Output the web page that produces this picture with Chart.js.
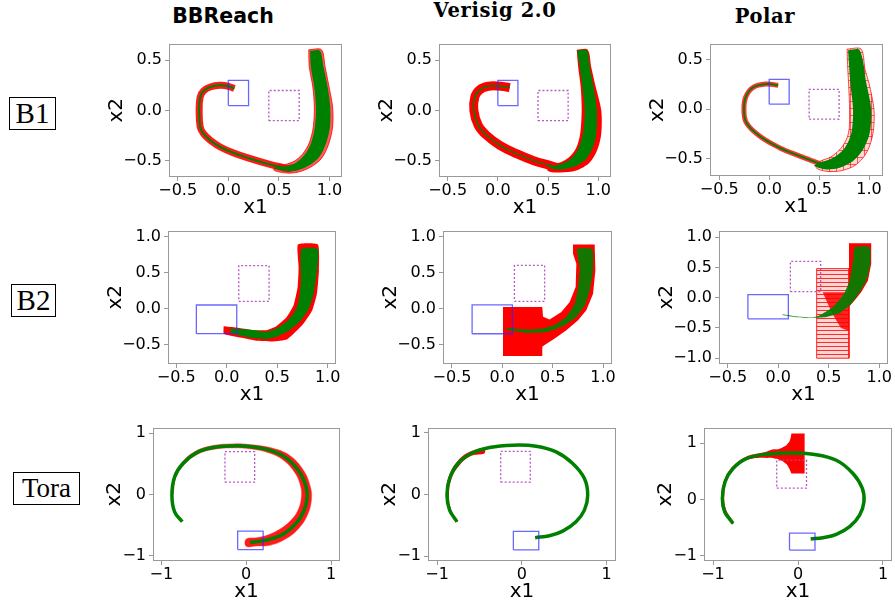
<!DOCTYPE html>
<html><head><meta charset="utf-8">
<script src="https://cdn.jsdelivr.net/npm/chart.js@4.4.0/dist/chart.umd.min.js"></script>
<style>
html,body{margin:0;padding:0;background:#fff;}
body{width:895px;height:604px;position:relative;overflow:hidden;}
canvas{position:absolute;}
.ttl{position:absolute;color:#000;white-space:nowrap;transform:translateX(-50%);line-height:1;}
.row{position:absolute;border:1px solid #000;box-sizing:border-box;font-family:"Liberation Serif",serif;color:#000;display:flex;align-items:center;justify-content:center;}
</style></head><body>
<div class="ttl" style="left:223px;top:6px;font-family:'DejaVu Sans';font-weight:bold;font-size:20.5px;">BBReach</div>
<div class="ttl" style="left:495px;top:1px;font-family:'DejaVu Serif';font-weight:bold;font-size:19.5px;letter-spacing:0.6px;">Verisig 2.0</div>
<div class="ttl" style="left:765px;top:7px;font-family:'DejaVu Serif';font-weight:bold;font-size:19.5px;letter-spacing:0.6px;">Polar</div>
<div class="row" style="left:9px;top:97px;width:47px;height:33px;font-size:29px;">B1</div>
<div class="row" style="left:11px;top:284px;width:45px;height:33px;font-size:29px;">B2</div>
<div class="row" style="left:13px;top:472px;width:67px;height:33px;font-size:27px;">Tora</div>
<script>
// ---------- target / avoid sets ----------
const b1GoalX = [0.0, 0.2], b1GoalY = [0.05, 0.3];
const b1AvoidX = [0.4, 0.7], b1AvoidY = [-0.1, 0.2];
const b2GoalX = [-0.3, 0.1], b2GoalY = [-0.35, 0.05];
const b2AvoidX = [0.12, 0.42], b2AvoidY = [0.1, 0.6];
const toraGoalX = [-0.1, 0.2], toraGoalY = [-0.9, -0.6];
const toraAvoidX = [-0.25, 0.1], toraAvoidY = [0.2, 0.7];

// ---------- B1 / BBReach ----------
const b1bbPathX = [0.855,0.878,0.915,0.936,0.93,0.89,0.82,0.73,0.6,0.517,0.384,0.219,0.053,-0.08,-0.179,-0.245,-0.278,-0.288,-0.278,-0.245,-0.179,-0.08,0.003,0.06];
const b1bbPathY = [0.59,0.43,0.235,0.036,-0.16,-0.33,-0.455,-0.535,-0.575,-0.56,-0.527,-0.477,-0.421,-0.361,-0.295,-0.229,-0.162,0.003,0.136,0.195,0.235,0.252,0.242,0.219];
const b1bbGreenX = [0.808,0.905,0.941,0.981,1.007,1.004,0.964,0.898,0.80,0.683,0.583,0.45,0.567,0.666,0.749,0.815,0.855,0.865,0.848,0.815];
const b1bbGreenY = [0.595,0.595,0.434,0.235,0.036,-0.162,-0.328,-0.46,-0.543,-0.593,-0.603,-0.57,-0.553,-0.52,-0.444,-0.328,-0.162,0.036,0.235,0.434];
const b1bbRedX = [0.795,0.92,0.955,0.995,1.03,1.03,0.99,0.92,0.815,0.69,0.58,0.45,0.5,0.56,0.655,0.735,0.80,0.84,0.85,0.835,0.80];
const b1bbRedY = [0.605,0.605,0.44,0.235,0.036,-0.162,-0.335,-0.475,-0.56,-0.61,-0.62,-0.59,-0.535,-0.535,-0.5,-0.43,-0.32,-0.16,0.036,0.235,0.434];

// ---------- B1 / Verisig 2.0 ----------
const b1vePathX = [0.835,0.865,0.9,0.925,0.92,0.885,0.82,0.73,0.6,0.517,0.351,0.186,0.02,-0.113,-0.195,-0.239,-0.229,-0.179,-0.096,0.003,0.086,0.119];
const b1vePathY = [0.6,0.434,0.235,0.003,-0.229,-0.378,-0.49,-0.55,-0.565,-0.543,-0.494,-0.427,-0.345,-0.245,-0.146,0.003,0.136,0.209,0.242,0.245,0.235,0.229];
const b1veGreenX = [0.789,0.888,0.915,0.954,0.987,0.981,0.941,0.865,0.749,0.616,0.5,0.583,0.716,0.799,0.848,0.865,0.842,0.815];
const b1veGreenY = [0.6,0.6,0.434,0.235,0.003,-0.229,-0.378,-0.494,-0.56,-0.586,-0.565,-0.543,-0.487,-0.378,-0.229,0.003,0.235,0.434];
const b1veRedX = [0.785,0.895,0.93,0.975,1.03,1.03,0.99,0.91,0.78,0.62,0.5,0.5,0.6,0.7,0.78,0.82,0.835,0.825,0.80];
const b1veRedY = [0.605,0.605,0.434,0.235,0.003,-0.229,-0.39,-0.52,-0.595,-0.615,-0.6,-0.52,-0.52,-0.47,-0.37,-0.229,0.003,0.235,0.434];

// ---------- B1 / Polar ----------
const b1poPathX = [0.85,0.893,0.93,0.915,0.85,0.74,0.6,0.5,0.307,0.107,-0.093,-0.227,-0.253,-0.233,-0.16,-0.027,0.09];
const b1poPathY = [0.59,0.26,-0.007,-0.24,-0.4,-0.51,-0.575,-0.545,-0.473,-0.39,-0.273,-0.14,-0.007,0.127,0.22,0.253,0.24];
const b1poGreenX = [0.79,0.907,0.973,1.023,1.007,0.94,0.84,0.707,0.573,0.45,0.507,0.64,0.757,0.823,0.84,0.813];
const b1poGreenY = [0.593,0.593,0.26,-0.007,-0.24,-0.407,-0.523,-0.59,-0.607,-0.57,-0.54,-0.49,-0.39,-0.24,-0.007,0.26];
const b1poRedX = [0.78,0.92,0.96,1.0,1.05,1.04,0.98,0.87,0.72,0.57,0.47,0.5,0.62,0.73,0.795,0.805,0.795,0.785];
const b1poRedY = [0.605,0.605,0.40,0.26,-0.007,-0.24,-0.43,-0.56,-0.62,-0.625,-0.59,-0.53,-0.48,-0.38,-0.24,-0.007,0.26,0.45];

// ---------- B2 / BBReach ----------
const b2bbGreenX = [0.036,0.228,0.393,0.492,0.591,0.673,0.716,0.736,0.739,0.904,0.888,0.855,0.805,0.723,0.624,0.492,0.393,0.228,0.063,0.036];
const b2bbGreenY = [-0.278,-0.292,-0.324,-0.278,-0.185,-0.046,0.116,0.394,0.833,0.833,0.44,0.162,-0.023,-0.185,-0.301,-0.394,-0.426,-0.403,-0.347,-0.315];
const b2bbRedX = [-0.03,0.096,0.261,0.393,0.492,0.591,0.663,0.703,0.713,0.706,0.904,0.914,0.894,0.848,0.762,0.673,0.597,0.459,0.294,0.162,-0.003,-0.03];
const b2bbRedY = [-0.245,-0.264,-0.301,-0.301,-0.245,-0.125,0.046,0.301,0.579,0.894,0.894,0.532,0.208,-0.023,-0.208,-0.338,-0.431,-0.458,-0.449,-0.412,-0.366,-0.347];

// ---------- B2 / Verisig 2.0 ----------
const b2veGreenX = [0.04,0.238,0.404,0.52,0.636,0.719,0.752,0.768,0.742,0.894,0.901,0.868,0.818,0.735,0.636,0.52,0.404,0.238,0.04];
const b2veGreenY = [-0.267,-0.29,-0.276,-0.23,-0.115,0.069,0.3,0.576,0.829,0.829,0.53,0.253,0.046,-0.115,-0.217,-0.29,-0.332,-0.336,-0.29];
const b2veRedX = [0.007,0.397,0.404,0.47,0.586,0.669,0.728,0.735,0.702,0.702,0.917,0.924,0.901,0.834,0.752,0.636,0.52,0.42,0.397,0.397,0.007];
const b2veRedY = [0.023,0.023,-0.115,-0.152,-0.046,0.092,0.3,0.622,0.76,0.889,0.889,0.53,0.207,-0.023,-0.161,-0.3,-0.415,-0.507,-0.53,-0.659,-0.659];

// ---------- B2 / Polar ----------
const b2poBlockX = [0.38,0.70,0.70,0.38];
const b2poBlockY = [0.48,0.48,-1.0,-1.0];
const b2poDenseX = [0.44,0.70,0.70,0.62,0.53];
const b2poDenseY = [0.09,0.09,-0.55,-0.5,-0.25];
const b2poArmX = [0.70,0.92,0.92,0.888,0.822,0.757,0.70];
const b2poArmY = [0.90,0.90,0.56,0.285,0.093,-0.044,-0.15];
const b2poGreenX = [0.043,0.181,0.345,0.411,0.543,0.641,0.707,0.74,0.757,0.905,0.911,0.872,0.806,0.724,0.609,0.477,0.345,0.181,0.043];
const b2poGreenY = [-0.275,-0.31,-0.322,-0.29,-0.153,0.038,0.285,0.614,0.833,0.833,0.559,0.285,0.093,-0.099,-0.252,-0.318,-0.334,-0.322,-0.285];

// ---------- Tora / BBReach ----------
const tobbPathX = [-0.753,-0.843,-0.875,-0.843,-0.745,-0.588,-0.392,-0.157,0.039,0.275,0.471,0.627,0.706,0.718,0.675,0.588,0.451,0.275,0.118,0.047];
const tobbPathY = [-0.446,-0.283,-0.011,0.288,0.505,0.679,0.766,0.793,0.783,0.723,0.598,0.37,0.125,-0.065,-0.283,-0.473,-0.636,-0.734,-0.772,-0.783];
const tobbRedX = [-0.878,-0.851,-0.753,-0.596,-0.392,-0.157,0.039,0.294,0.51,0.675,0.757,0.769,0.725,0.627,0.478,0.294,0.118,0.0,
                  0.0,0.118,0.255,0.412,0.541,0.62,0.651,0.643,0.58,0.439,0.255,0.039,-0.157,-0.392,-0.58,-0.737,-0.831,-0.863];
const tobbRedY = [-0.011,0.299,0.527,0.707,0.799,0.826,0.815,0.761,0.641,0.397,0.125,-0.092,-0.326,-0.543,-0.717,-0.826,-0.842,-0.848,
                  -0.728,-0.707,-0.663,-0.554,-0.402,-0.228,-0.038,0.125,0.342,0.56,0.685,0.745,0.761,0.734,0.652,0.478,0.272,-0.011];

// ---------- Tora / Verisig 2.0 ----------
const tovePathX = [-0.766,-0.853,-0.884,-0.853,-0.754,-0.597,-0.381,-0.106,0.169,0.405,0.601,0.739,0.778,0.739,0.64,0.483,0.326,0.157];
const tovePathY = [-0.443,-0.254,-0.011,0.259,0.503,0.665,0.762,0.8,0.784,0.692,0.503,0.259,-0.011,-0.254,-0.443,-0.595,-0.67,-0.703];
const toveRedX = [-0.766,-0.86,-0.896,-0.868,-0.766,-0.617,-0.452,-0.44,-0.597,-0.735,-0.829,-0.86,-0.833,-0.758];
const toveRedY = [-0.454,-0.265,-0.011,0.27,0.53,0.692,0.746,0.67,0.627,0.476,0.259,-0.011,-0.254,-0.432];

// ---------- Tora / Polar ----------
const topoPathX = [-0.765,-0.863,-0.89,-0.859,-0.765,-0.608,-0.373,-0.098,0.176,0.451,0.647,0.757,0.776,0.725,0.608,0.451,0.294,0.149];
const topoPathY = [-0.426,-0.219,0.018,0.314,0.55,0.728,0.805,0.828,0.805,0.698,0.462,0.195,-0.041,-0.278,-0.485,-0.621,-0.68,-0.704];
const topoBandX = [-0.773,-0.875,-0.902,-0.871,-0.773,-0.616,-0.412,-0.25,-0.25,-0.333,-0.529,-0.686,-0.812,-0.863,-0.851,-0.757];
const topoBandY = [-0.444,-0.219,0.018,0.325,0.58,0.757,0.834,0.888,0.74,0.74,0.728,0.639,0.432,0.166,-0.16,-0.408];
const topoBlowX = [-0.3,-0.2,-0.14,-0.1,-0.085,-0.078,0.078,0.078,-0.078,-0.1,-0.13,-0.18,-0.24,-0.3];
const topoBlowY = [0.86,0.91,0.96,1.03,1.1,1.172,1.172,0.462,0.462,0.54,0.62,0.68,0.72,0.74];

// ---------- helpers ----------
const GREEN = '#008000', RED = '#ff0000';
const BLUE = 'rgba(40,40,255,0.7)', PURPLE = 'rgba(175,70,190,0.9)';
function pts(xs, ys, close) {
  const p = xs.map((x, i) => ({x: x, y: ys[i]}));
  if (close) p.push({x: xs[0], y: ys[0]});
  return p;
}
function poly(xs, ys, bg, border, bw, tension) {
  return {data: pts(xs, ys, true), backgroundColor: bg, borderColor: border || 'rgba(0,0,0,0)', borderWidth: bw || 0, fill: 'shape', pointRadius: 0, tension: tension || 0};
}
function line(xs, ys, color, w, tension) {
  return {data: pts(xs, ys, false), borderColor: color, borderWidth: w, fill: false, pointRadius: 0, tension: tension === undefined ? 0.4 : tension, borderCapStyle: 'butt', borderJoinStyle: 'round'};
}
function rect(xr, yr, color, dash) {
  return {data: pts([xr[0], xr[1], xr[1], xr[0]], [yr[0], yr[0], yr[1], yr[1]], true), borderColor: color, borderWidth: 1.3, borderDash: dash || [], fill: false, pointRadius: 0, tension: 0};
}
function hatchH() {
  const p = document.createElement('canvas'); p.width = 4; p.height = 4;
  const g = p.getContext('2d');
  g.fillStyle = 'rgba(255,0,0,0.16)'; g.fillRect(0, 0, 4, 4);
  g.fillStyle = 'rgba(255,0,0,0.8)'; g.fillRect(0, 0, 4, 1);
  return g.createPattern(p, 'repeat');
}
function hatchGrid() {
  const p = document.createElement('canvas'); p.width = 7; p.height = 7;
  const g = p.getContext('2d');
  g.fillStyle = 'rgba(255,120,120,0.3)'; g.fillRect(0, 0, 7, 7);
  g.fillStyle = 'rgba(255,0,0,0.6)'; g.fillRect(0, 0, 7, 1); g.fillRect(0, 0, 1, 7);
  return g.createPattern(p, 'repeat');
}
function fmt1(v) { if (Math.abs(v) < 1e-9) v = 0; return (v < 0 ? '\u2212' : '') + Math.abs(v).toFixed(1); }
function fmt0(v) { if (Math.abs(v) < 1e-9) v = 0; return (v < 0 ? '\u2212' : '') + Math.abs(v).toFixed(0); }

const framePlugin = {
  id: 'frame',
  afterDraw(chart) {
    const a = chart.chartArea, ctx = chart.ctx;
    ctx.save(); ctx.strokeStyle = '#999'; ctx.lineWidth = 1;
    ctx.strokeRect(Math.round(a.left) + 0.5, Math.round(a.top) + 0.5, Math.round(a.right - a.left) - 1, Math.round(a.bottom - a.top) - 1);
    ctx.restore();
  }
};

function makePanel(cfg, layers) {
  const padL = 70, padT = 12, padR = 22, padB = 50;
  const W = Math.round(cfg.r - cfg.l), H = Math.round(cfg.b - cfg.t);
  const c = document.createElement('canvas');
  c.width = W + padL + padR; c.height = H + padT + padB;
  c.style.width = c.width + 'px'; c.style.height = c.height + 'px';
  c.style.left = (Math.round(cfg.l) - padL) + 'px'; c.style.top = (Math.round(cfg.t) - padT) + 'px';
  document.body.appendChild(c);
  const tickFont = {family: 'DejaVu Sans', size: 16};
  const titleFont = {family: 'DejaVu Sans', size: 20};
  const grid = {display: true, drawOnChartArea: false, drawTicks: true, tickLength: 4, color: '#999', tickColor: '#999', tickWidth: 1};
  const fmt = cfg.step >= 1 ? fmt0 : fmt1;
  new Chart(c, {
    type: 'line',
    data: {datasets: layers.slice().reverse()},
    options: {
      responsive: false, animation: false, devicePixelRatio: 1,
      layout: {padding: {left: 0, top: padT, right: padR, bottom: 0}},
      plugins: {legend: {display: false}, tooltip: {enabled: false}},
      scales: {
        x: {type: 'linear', min: cfg.x[0], max: cfg.x[1],
            afterFit(s) { s.height = padB; },
            ticks: {stepSize: cfg.step, includeBounds: false, autoSkip: false, maxRotation: 0, padding: 0, font: tickFont, color: '#000', callback: fmt},
            grid: grid, border: {display: false},
            title: {display: true, text: 'x1', font: titleFont, color: '#000', padding: {top: 0, bottom: 7}}},
        y: {type: 'linear', min: cfg.y[0], max: cfg.y[1],
            afterFit(s) { s.width = padL; },
            ticks: {stepSize: cfg.step, includeBounds: false, autoSkip: false, padding: 3, font: tickFont, color: '#000', callback: fmt},
            grid: grid, border: {display: false},
            title: {display: true, text: 'x2', font: titleFont, color: '#000', padding: {top: cfg.yPad, bottom: 0}}}
      }
    },
    plugins: [framePlugin]
  });
}

// ---------- panels (layers listed bottom -> top) ----------
makePanel({l: 169, t: 43, r: 341.5, b: 177, x: [-0.586, 1.123], y: [-0.659, 0.666], step: 0.5, yPad: 6}, [
  poly(b1bbRedX, b1bbRedY, 'rgba(255,20,20,0.7)', 'rgba(255,0,0,0.8)', 1, 0.3),
  line(b1bbPathX, b1bbPathY, 'rgba(255,0,0,0.9)', 7),
  poly(b1bbGreenX, b1bbGreenY, GREEN, null, 0, 0.3),
  line(b1bbPathX, b1bbPathY, GREEN, 2),
  rect(b1GoalX, b1GoalY, BLUE),
  rect(b1AvoidX, b1AvoidY, PURPLE, [2, 2])
]);
makePanel({l: 439, t: 43, r: 611.3, b: 177, x: [-0.586, 1.127], y: [-0.659, 0.666], step: 0.5, yPad: 6}, [
  poly(b1veRedX, b1veRedY, RED, null, 0, 0.3),
  line(b1vePathX, b1vePathY, RED, 9),
  poly(b1veGreenX, b1veGreenY, GREEN, null, 0, 0.3),
  line(b1vePathX, b1vePathY, GREEN, 1.5),
  rect(b1GoalX, b1GoalY, BLUE),
  rect(b1AvoidX, b1AvoidY, PURPLE, [2, 2])
]);
makePanel({l: 710, t: 43.3, r: 883.3, b: 176.7, x: [-0.593, 1.14], y: [-0.673, 0.66], step: 0.5, yPad: 6}, [
  poly(b1poRedX, b1poRedY, hatchGrid(), 'rgba(255,0,0,0.7)', 1, 0.3),
  line(b1poPathX, b1poPathY, 'rgba(255,0,0,0.8)', 5),
  poly(b1poGreenX, b1poGreenY, GREEN, null, 0, 0.3),
  line(b1poPathX, b1poPathY, GREEN, 1.8),
  rect(b1GoalX, b1GoalY, BLUE),
  rect(b1AvoidX, b1AvoidY, PURPLE, [2, 2])
]);
makePanel({l: 168.3, t: 230, r: 336.3, b: 364, x: [-0.581, 1.083], y: [-0.773, 1.088], step: 0.5, yPad: 6}, [
  poly(b2bbRedX, b2bbRedY, RED, null, 0, 0.15),
  poly(b2bbGreenX, b2bbGreenY, GREEN, null, 0, 0.15),
  rect(b2GoalX, b2GoalY, BLUE),
  rect(b2AvoidX, b2AvoidY, PURPLE, [2, 2])
]);
makePanel({l: 443.3, t: 230, r: 612.3, b: 364, x: [-0.589, 1.089], y: [-0.77, 1.083], step: 0.5, yPad: 6}, [
  poly(b2veRedX, b2veRedY, RED),
  poly(b2veGreenX, b2veGreenY, 'rgba(0,128,0,0.92)', null, 0, 0.15),
  rect(b2GoalX, b2GoalY, BLUE),
  rect(b2AvoidX, b2AvoidY, PURPLE, [2, 2])
]);
makePanel({l: 719, t: 230, r: 888.3, b: 364, x: [-0.586, 1.086], y: [-1.096, 1.107], step: 0.5, yPad: 6}, [
  poly(b2poBlockX, b2poBlockY, hatchH(), 'rgba(255,0,0,0.8)', 1),
  poly(b2poDenseX, b2poDenseY, 'rgba(255,0,0,0.85)'),
  poly(b2poArmX, b2poArmY, RED),
  poly(b2poGreenX, b2poGreenY, 'rgba(0,128,0,0.92)', null, 0, 0.15),
  rect(b2GoalX, b2GoalY, BLUE),
  rect(b2AvoidX, b2AvoidY, PURPLE, [2, 2])
]);
makePanel({l: 153.3, t: 427.3, r: 340.7, b: 561, x: [-1.098, 1.106], y: [-1.087, 1.092], step: 1, yPad: 20}, [
  poly(tobbRedX, tobbRedY, 'rgba(255,0,0,0.9)', 'rgba(255,60,60,0.5)', 1, 0.4),
  line(tobbPathX, tobbPathY, GREEN, 3.5),
  rect(toraGoalX, toraGoalY, BLUE),
  rect(toraAvoidX, toraAvoidY, PURPLE, [2, 2])
]);
makePanel({l: 428.3, t: 427.3, r: 616.7, b: 561, x: [-1.108, 1.112], y: [-1.081, 1.086], step: 1, yPad: 20}, [
  poly(toveRedX, toveRedY, RED, null, 0, 0.4),
  line(tovePathX, tovePathY, GREEN, 3.5),
  rect(toraGoalX, toraGoalY, BLUE),
  rect(toraAvoidX, toraAvoidY, PURPLE, [2, 2])
]);
makePanel({l: 704.3, t: 427.3, r: 892.3, b: 561, x: [-1.106, 1.106], y: [-1.095, 1.278], step: 1, yPad: 20}, [
  poly(topoBandX, topoBandY, RED, null, 0, 0.4),
  poly(topoBlowX, topoBlowY, RED),
  line(topoPathX, topoPathY, GREEN, 3.5),
  rect(toraGoalX, toraGoalY, BLUE),
  rect(toraAvoidX, toraAvoidY, PURPLE, [2, 2])
]);
</script>
</body></html>
